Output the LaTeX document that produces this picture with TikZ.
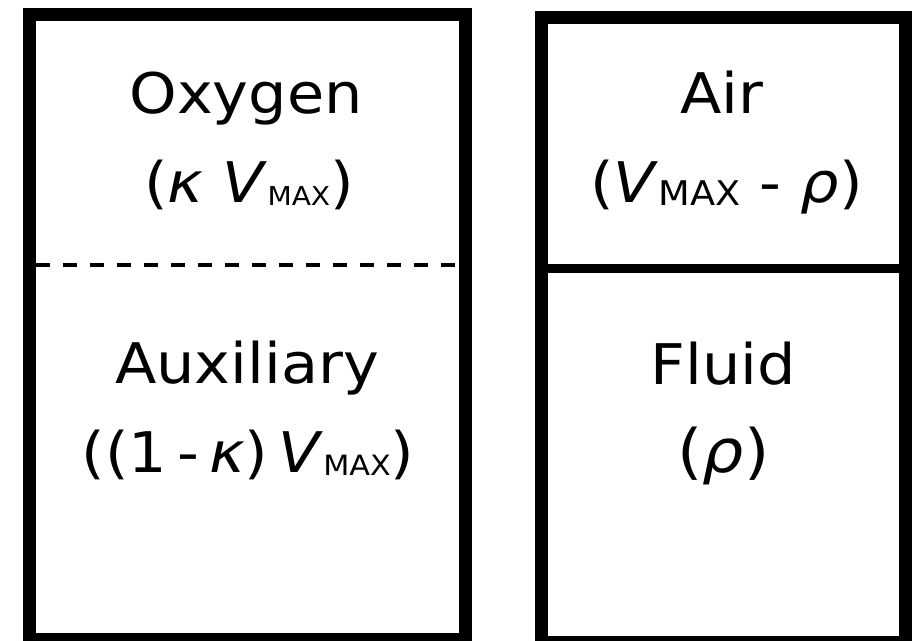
\documentclass[tikz,border=0pt]{standalone}
\usepackage{fontspec}
\setmainfont{DejaVu Sans}
\usetikzlibrary{positioning}

% name and volume lines
\tikzset{
  frame/.style={line width=6.5pt, line join=miter},
  divider/.style={line width=4.5pt},
  namelabel/.style={anchor=base, inner sep=0pt, xscale=1.08, font=\fontsize{28}{32}\selectfont},
  vollabel/.style={namelabel},
  bigvol/.style={vollabel, font=\fontsize{30}{34}\selectfont}
}
\newcommand{\vmx}[1][14]{\textit{V}\raisebox{-1.5pt}{\fontsize{#1}{#1}\selectfont MAX}}

\begin{document}
\begin{tikzpicture}[x=0.5pt,y=-0.5pt]
  \useasboundingbox (0,0) rectangle (916,641);
  % left tank
  \draw[frame] (29.5,14.5) rectangle (465,639.5);
  \draw[line width=2pt, dash pattern=on 7pt off 6.5pt] (36,265.3) -- (459,265.3);
  \node[namelabel] (oxyname) at (246,114) {Oxygen};
  \node[vollabel] (oxyvol) at (249,203) {(\textit{κ} \vmx[13])};
  \node[namelabel] (auxname) at (247,384) {Auxiliary};
  \node[vollabel] (auxvol) at (248,473) {((1\,-\,\textit{κ})\,\vmx)};
  % right tank
  \draw[frame] (541,17.7) rectangle (905,642.5);
  \draw[divider] (541,268.3) -- (905,268.3);
  \node[namelabel] (airname) at (722,114) {Air};
  \node[vollabel] (airvol) at (726.5,203) {(\vmx[17] - \textit{ρ})};
  \node[namelabel] (fluidname) at (723,385) {Fluid};
  \node[bigvol] (fluidvol) at (723.5,473) {(\textit{ρ})};
\end{tikzpicture}
\end{document}
